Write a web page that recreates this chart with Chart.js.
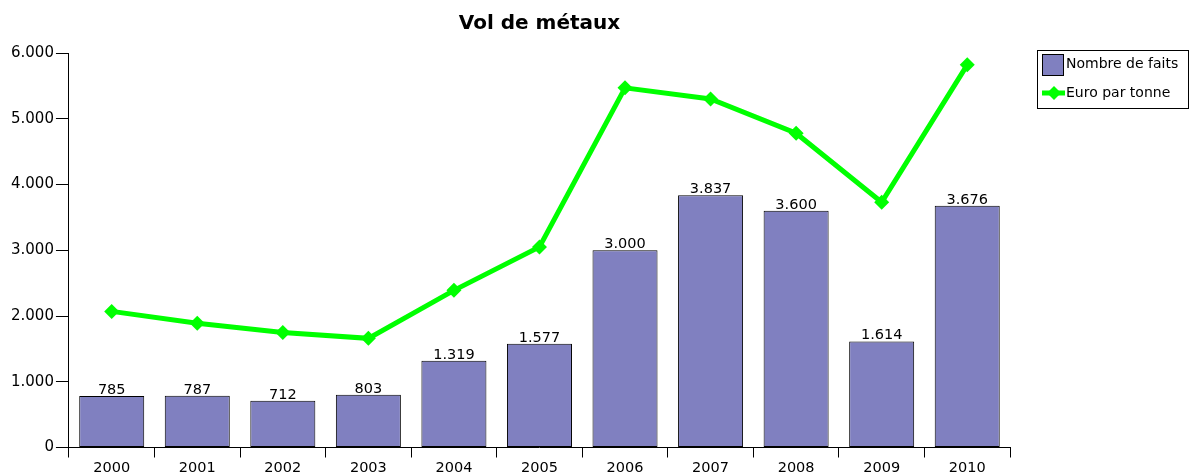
<!DOCTYPE html>
<html>
<head>
<meta charset="utf-8">
<title>Vol de métaux</title>
<script src="https://cdn.jsdelivr.net/npm/chart.js@4/dist/chart.umd.min.js"></script>
<style>
  html, body { margin: 0; padding: 0; background: #fff; }
  #wrap { width: 1190px; height: 474px; position: relative; }
</style>
</head>
<body>
<div id="wrap"><canvas id="chart"></canvas></div>
<script>
// Data
const years = ["2000", "2001", "2002", "2003", "2004", "2005", "2006", "2007", "2008", "2009", "2010"];
const nombreDeFaits = [785, 787, 712, 803, 1319, 1577, 3000, 3837, 3600, 1614, 3676];
const euroParTonne = [2070, 1890, 1750, 1660, 2390, 3050, 5470, 5300, 4780, 3730, 5820];
const yTicks = [0, 1000, 2000, 3000, 4000, 5000, 6000];

const FONT = "'DejaVu Sans', Verdana, sans-serif";
const BAR_COLOR = "#8080c0";
const LINE_COLOR = "#00ff00";

// 1000 -> "1.000"
function fmt(v) {
  return String(v).replace(/\B(?=(\d{3})+(?!\d))/g, ".");
}

// Value labels above the bars
const barLabels = {
  id: "barLabels",
  afterDatasetsDraw(chart) {
    const ctx = chart.ctx;
    const meta = chart.getDatasetMeta(0);
    ctx.save();
    ctx.font = "14.5px " + FONT;
    ctx.fillStyle = "#000";
    ctx.textAlign = "center";
    ctx.textBaseline = "alphabetic";
    meta.data.forEach((bar, i) => {
      ctx.fillText(fmt(nombreDeFaits[i]), bar.x, bar.y - 2);
    });
    ctx.restore();
  }
};

// Boxed legend on the right, like the original
const boxLegend = {
  id: "boxLegend",
  afterDraw(chart) {
    const ctx = chart.ctx;
    const x = 1037, y = 50, w = 151, h = 58;
    ctx.save();
    ctx.strokeStyle = "#000";
    ctx.lineWidth = 1;
    ctx.strokeRect(x + 0.5, y + 0.5, w, h);

    // bar swatch
    ctx.fillStyle = BAR_COLOR;
    ctx.fillRect(x + 5.5, y + 4.5, 21, 21);
    ctx.strokeRect(x + 5.5, y + 4.5, 21, 21);

    // line swatch with diamond
    const ly = y + 43;
    ctx.strokeStyle = LINE_COLOR;
    ctx.lineWidth = 5;
    ctx.beginPath();
    ctx.moveTo(x + 5, ly);
    ctx.lineTo(x + 28, ly);
    ctx.stroke();
    ctx.fillStyle = LINE_COLOR;
    ctx.beginPath();
    ctx.moveTo(x + 17, ly - 7);
    ctx.lineTo(x + 24, ly);
    ctx.lineTo(x + 17, ly + 7);
    ctx.lineTo(x + 10, ly);
    ctx.closePath();
    ctx.fill();

    ctx.fillStyle = "#000";
    ctx.font = "14px " + FONT;
    ctx.textBaseline = "middle";
    ctx.textAlign = "left";
    ctx.fillText("Nombre de faits", x + 29, y + 14);
    ctx.fillText("Euro par tonne", x + 29, ly);
    ctx.restore();
  }
};

const ctx = document.getElementById("chart").getContext("2d");
const chart = new Chart(ctx, {
  type: "bar",
  data: {
    labels: years,
    datasets: [
      {
        type: "bar",
        label: "Nombre de faits",
        data: nombreDeFaits,
        backgroundColor: BAR_COLOR,
        borderColor: "#000",
        borderWidth: 1,
        borderSkipped: false,
        categoryPercentage: 0.76,
        barPercentage: 1,
        order: 2,
      },
      {
        type: "line",
        label: "Euro par tonne",
        data: euroParTonne,
        borderColor: LINE_COLOR,
        backgroundColor: LINE_COLOR,
        borderWidth: 5,
        pointStyle: "rectRot",
        pointRadius: 7.5,
        pointBorderWidth: 0,
        tension: 0,
        fill: false,
        order: 1,
      },
    ],
  },
  options: {
    responsive: true,
    maintainAspectRatio: false,
    animation: false,
    events: [],
    layout: {
      padding: { left: 9, right: 180, top: 0, bottom: -4 },
    },
    plugins: {
      legend: { display: false },
      tooltip: { enabled: false },
      title: {
        display: true,
        fullSize: false,
        text: "Vol de métaux",
        color: "#000",
        font: { family: FONT, size: 20, weight: "bold", lineHeight: 1.2 },
        padding: { top: 12, bottom: 17 },
      },
    },
    scales: {
      x: {
        offset: true,
        grid: {
          offset: true,
          drawOnChartArea: false,
          drawTicks: true,
          tickLength: 10,
          color: "#000",
          tickColor: "#000",
        },
        border: { display: true, color: "#000", width: 1 },
        ticks: {
          color: "#000",
          font: { family: FONT, size: 14.5, lineHeight: 1 },
          padding: 3,
          maxRotation: 0,
        },
      },
      y: {
        min: 0,
        max: 6000,
        afterBuildTicks(axis) {
          axis.ticks = yTicks.map((v) => ({ value: v }));
        },
        grid: {
          drawOnChartArea: false,
          drawTicks: true,
          tickLength: 13,
          color: "#000",
          tickColor: "#000",
        },
        border: { display: true, color: "#000", width: 1 },
        ticks: {
          color: "#000",
          font: { family: FONT, size: 15 },
          padding: 2,
          callback: (v) => fmt(v),
        },
      },
    },
  },
  plugins: [barLabels, boxLegend],
});

console.log("chartArea", JSON.stringify(chart.chartArea));
</script>
</body>
</html>
